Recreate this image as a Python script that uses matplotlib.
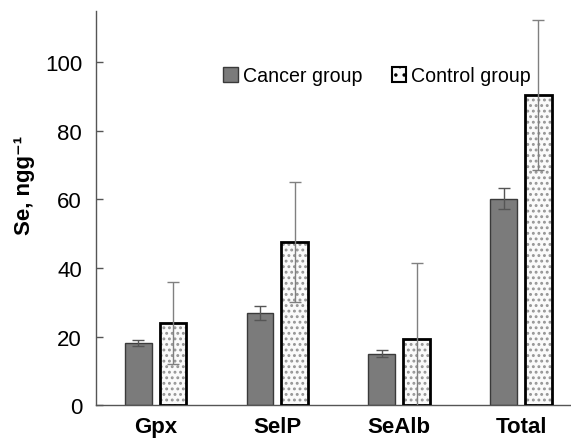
import matplotlib
matplotlib.use("Agg")
import matplotlib.pyplot as plt
from matplotlib.patches import Patch
import numpy as np

plt.rcParams['font.family'] = ['Liberation Sans', 'DejaVu Sans']

categories = ["Gpx", "SelP", "SeAlb", "Total"]
cancer = [18.1, 26.8, 15.0, 60.2]
cancer_err = [1.0, 2.1, 1.0, 3.0]
control = [24.0, 47.5, 19.3, 90.4]
control_err = [12.0, 17.5, 22.0, 21.8]
yticks = [0, 20, 40, 60, 80, 100]

fig = plt.figure(figsize=(5.71, 4.39), dpi=100)
ax = fig.add_axes([0.168, 0.075, 0.832, 0.898])

x = np.arange(len(categories))
w = 0.22
off = 0.143

ax.bar(x - off, cancer, w, color='#7b7b7b', edgecolor='#3a3a3a', linewidth=1.0, zorder=2)
ax.errorbar(x - off, cancer, yerr=cancer_err, fmt='none', ecolor='#555555',
            elinewidth=1.0, capsize=4, capthick=1.0, zorder=3)

plt.rcParams['hatch.linewidth'] = 1.3
ax.bar(x + off, control, w, color='#fafafa', edgecolor='#959595', hatch='...',
       linewidth=0, zorder=2)
ax.bar(x + off, control, w, fill=False, edgecolor='black', linewidth=2.0, zorder=3)
ax.errorbar(x + off, control, yerr=control_err, fmt='none', ecolor='#808080',
            elinewidth=1.0, capsize=4, capthick=1.0, zorder=4)

ax.set_xlim(-0.49, 3.41)
ax.set_ylim(0, 115)
ax.set_yticks(yticks)
ax.set_yticklabels([str(t) for t in yticks], fontsize=16)
ax.set_xticks(x)
ax.set_xticklabels(categories, fontsize=16, fontweight='bold')
ax.tick_params(axis='x', length=0, pad=8)
ax.tick_params(axis='y', direction='in', length=5, width=1, color='#555555', pad=10)
for s in ['top', 'right']:
    ax.spines[s].set_visible(False)
for s in ['left', 'bottom']:
    ax.spines[s].set_color('#555555')
    ax.spines[s].set_linewidth(1.0)
ax.set_ylabel("Se, ngg⁻¹", fontsize=16, fontweight='bold')
ax.yaxis.set_label_coords(-0.128, 0.56)

handles = [Patch(facecolor='#7b7b7b', edgecolor='#3a3a3a', label='Cancer group'),
           Patch(facecolor='#fafafa', edgecolor='black', hatch='..', linewidth=1.5,
                 label='Control group')]
ax.legend(handles=handles, loc='center left', bbox_to_anchor=(0.247, 0.835), ncol=2,
          frameon=False, fontsize=14.1, handlelength=0.75, handleheight=0.75,
          handletextpad=0.25, columnspacing=1.5, borderpad=0)

fig.savefig("out.png", dpi=100)
